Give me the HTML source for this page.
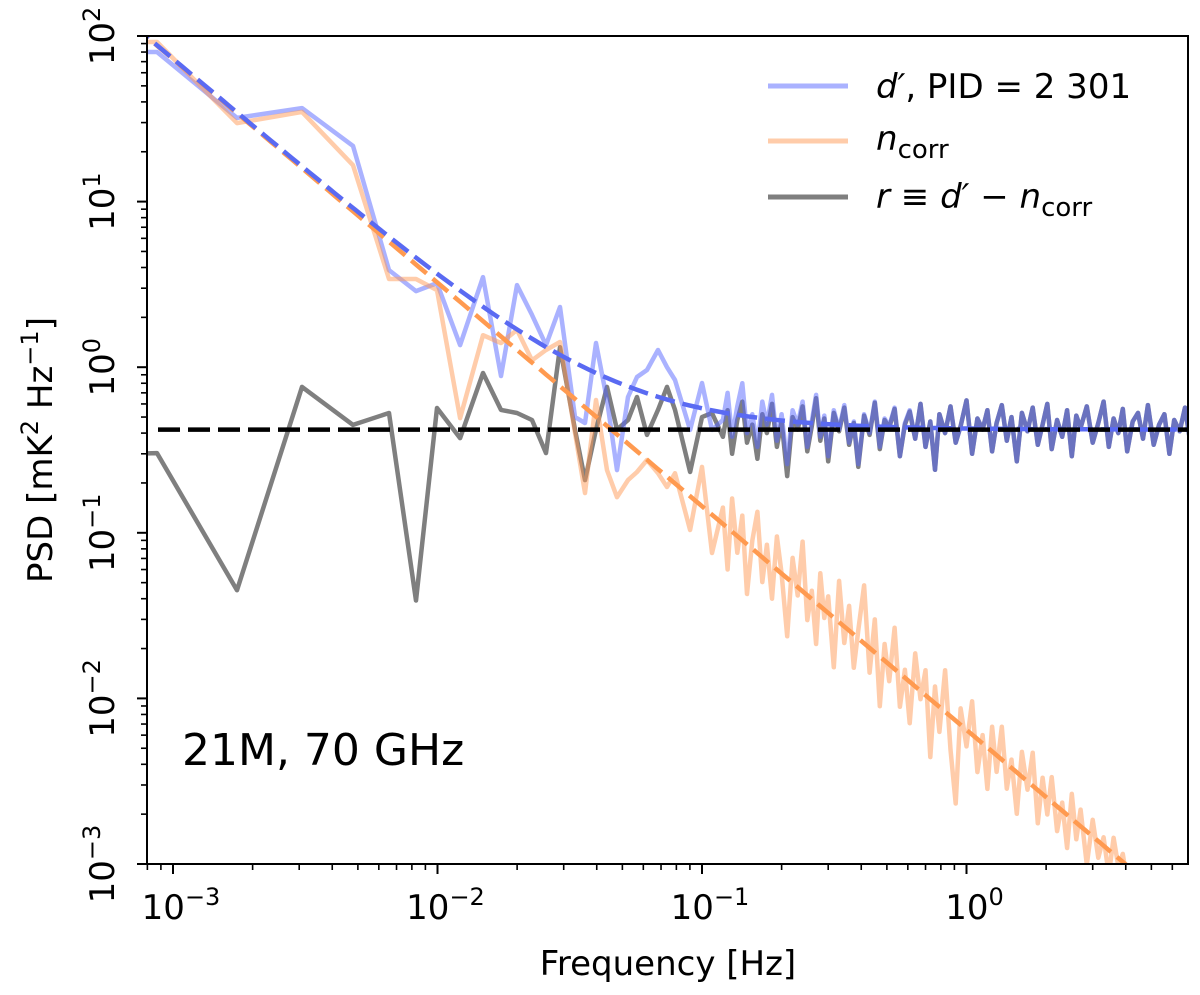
<!DOCTYPE html>
<html><head><meta charset="utf-8"><style>
body{margin:0;background:#fff}
svg text{font-family:"DejaVu Sans","Liberation Sans",sans-serif;fill:#000}
</style></head><body>
<svg id="chart" width="1200" height="990" viewBox="0 0 1200 990" xmlns="http://www.w3.org/2000/svg">
<defs><clipPath id="plotclip"><rect x="147" y="36" width="1041" height="828"/></clipPath></defs>
<g id="plot" clip-path="url(#plotclip)"></g>
<g id="axes"></g>
<g>
 <line x1="768" y1="86" x2="848" y2="86" stroke="#5566ff" stroke-opacity="0.5" stroke-width="5"/>
 <text x="876" y="98" font-size="34"><tspan font-style="italic">d′</tspan>, PID = 2 301</text>
 <line x1="768" y1="141" x2="848" y2="141" stroke="#ff9955" stroke-opacity="0.5" stroke-width="5"/>
 <text x="876" y="150" font-size="34"><tspan font-style="italic">n</tspan><tspan font-size="26" dy="8">corr</tspan></text>
 <line x1="768" y1="197" x2="848" y2="197" stroke="#000" stroke-opacity="0.5" stroke-width="5"/>
 <text x="876" y="208" font-size="34"><tspan font-style="italic">r</tspan> ≡ <tspan font-style="italic">d′</tspan> − <tspan font-style="italic">n</tspan><tspan font-size="26" dy="8">corr</tspan></text>
</g>
<text x="182" y="765" font-size="44">21M, 70 GHz</text>
<text x="668" y="975" font-size="34" text-anchor="middle">Frequency [Hz]</text>
<text transform="translate(52,450) rotate(-90)" font-size="34" text-anchor="middle">PSD [mK<tspan font-size="24" dy="-14">2</tspan><tspan dy="14"> Hz</tspan><tspan font-size="24" dy="-14">−1</tspan><tspan dy="14">]</tspan></text>
</svg>
<script>
const freqLow = [0.0007,0.00087,0.001746,0.003074,0.004792,0.006555,0.008292,0.00996,0.01217,0.01486,0.01738,0.01998,0.02277,0.02572,0.02904,0.03311,0.03612,0.03974,0.04372,0.04773,0.05253,0.05679,0.06194,0.06819,0.07375,0.07907,0.09016,0.1,0.1091];
const grayLow = [0.30,0.303,0.045,0.76,0.448,0.529,0.039,0.567,0.373,0.923,0.552,0.529,0.48,0.303,1.32,0.42,0.208,0.42,0.76,0.42,0.48,0.661,0.39,0.552,0.76,0.552,0.233,0.5,0.529];
const blueLow = [80,80,32,36.7,21.7,3.86,2.88,3.22,1.36,3.5,0.885,3.13,2.07,1.36,2.31,0.5,0.46,1.4,0.634,0.239,0.661,0.873,0.962,1.27,1.0,0.837,0.418,0.803,0.418];
const orangeLow = [92,92,29.8,34.8,16.6,3.41,3.41,2.92,0.493,1.56,1.4,1.68,1.1,1.27,1.42,0.401,0.174,0.634,0.239,0.164,0.208,0.233,0.275,0.229,0.189,0.229,0.104,0.25,0.0755];
const freqHigh = [0.12,0.125,0.13,0.136,0.142,0.148,0.155,0.162,0.169,0.176,0.184,0.192,0.2,0.21,0.22,0.23,0.24,0.25,0.26,0.27,0.28,0.29,0.3,0.315,0.33,0.345,0.36,0.375,0.39,0.41,0.43,0.45,0.47,0.49,0.51,0.535,0.56,0.585,0.61,0.64,0.67,0.7,0.73,0.76,0.79,0.83,0.87,0.91,0.95,1.0,1.05,1.1,1.15,1.2,1.25,1.3,1.36,1.42,1.48,1.55,1.62,1.7,1.78,1.86,1.94,2.02,2.1,2.2,2.3,2.4,2.5,2.6,2.7,2.85,3.0,3.15,3.3,3.45,3.6,3.75,3.9,4.05,4.25,4.45,4.65,4.85,5.1,5.35,5.6,5.85,6.1,6.4,6.7,7.0];
const grayHigh = [0.38,0.55,0.30,0.48,0.62,0.35,0.45,0.28,0.52,0.40,0.60,0.33,0.47,0.22,0.50,0.42,0.58,0.31,0.44,0.65,0.36,0.49,0.27,0.53,0.41,0.57,0.34,0.46,0.25,0.51,0.39,0.61,0.32,0.48,0.43,0.56,0.29,0.45,0.54,0.37,0.60,0.33,0.47,0.24,0.52,0.40,0.58,0.35,0.44,0.63,0.30,0.49,0.42,0.55,0.31,0.46,0.59,0.36,0.50,0.27,0.53,0.41,0.57,0.34,0.45,0.60,0.32,0.48,0.38,0.55,0.29,0.51,0.43,0.58,0.35,0.46,0.62,0.33,0.49,0.40,0.56,0.31,0.47,0.53,0.37,0.59,0.34,0.45,0.52,0.30,0.48,0.41,0.57,0.36];
const blueHigh = [0.48,0.70,0.38,0.58,0.80,0.40,0.52,0.33,0.62,0.45,0.68,0.36,0.52,0.26,0.55,0.45,0.62,0.33,0.47,0.68,0.38,0.51,0.29,0.55,0.42,0.59,0.35,0.47,0.26,0.52,0.40,0.62,0.33,0.49,0.44,0.57,0.29,0.46,0.55,0.37,0.60,0.33,0.47,0.24,0.52,0.40,0.58,0.35,0.44,0.63,0.30,0.49,0.42,0.55,0.31,0.46,0.59,0.36,0.50,0.27,0.53,0.41,0.57,0.34,0.45,0.60,0.32,0.48,0.38,0.55,0.29,0.51,0.43,0.58,0.35,0.46,0.62,0.33,0.49,0.40,0.56,0.31,0.47,0.53,0.37,0.59,0.34,0.45,0.52,0.30,0.48,0.41,0.57,0.36];
const orangeHigh = [0.142,0.060,0.161,0.0757,0.127,0.0427,0.0897,0.134,0.0504,0.0847,0.040,0.095,0.0568,0.0237,0.0705,0.0418,0.0885,0.0297,0.0447,0.0213,0.057,0.0306,0.0413,0.0154,0.0512,0.0216,0.0362,0.0153,0.0258,0.0481,0.0143,0.030,0.00897,0.0213,0.0127,0.0267,0.0089,0.0149,0.00708,0.0187,0.00989,0.0148,0.00442,0.0118,0.00628,0.0148,0.00491,0.00232,0.0087,0.00513,0.0096,0.00359,0.0060,0.00284,0.00675,0.0036,0.00675,0.00285,0.00427,0.00201,0.00475,0.00281,0.0047,0.00176,0.00332,0.00199,0.00335,0.00158,0.00235,0.00125,0.00265,0.00141,0.00213,0.00099,0.00185,0.00109,0.00145,0.00086,0.00144,0.00097,0.00115,0.00078,0.0006];
const fitAmp = 0.00646, fitSlope = -1.35, whiteLevel = 0.42;
const yTickExps = [2,1,0,-1,-2,-3];
const xTickExps = [-3,-2,-1,0];

const X0=173, XDEC=264.5, Y0=36, YDEC=165.6, L=147, R=1188, T=36, B=864;
const xs = f => X0 + XDEC*(Math.log10(f)+3);
const ys = v => Y0 + YDEC*(2-Math.log10(v));
const NS='http://www.w3.org/2000/svg';
const plot=document.getElementById('plot'), axes=document.getElementById('axes');
function mk(tag, attrs, parent){const e=document.createElementNS(NS,tag);for(const k in attrs)e.setAttribute(k,attrs[k]);parent.appendChild(e);return e;}
function series(fl,vl,fh,vh){const pts=[];for(let i=0;i<Math.min(fl.length,vl.length);i++)pts.push([fl[i],vl[i]]);for(let i=0;i<Math.min(fh.length,vh.length);i++)pts.push([fh[i],vh[i]]);return pts.map(p=>xs(p[0]).toFixed(1)+','+ys(p[1]).toFixed(1)).join(' ');}

let e;
e=mk('polyline',{points:series(freqLow,grayLow,freqHigh,grayHigh),fill:'none',stroke:'#000','stroke-opacity':0.5,'stroke-width':4.5,'stroke-linejoin':'round'},plot);


e=mk('polyline',{points:series(freqLow,blueLow,freqHigh,blueHigh),fill:'none',stroke:'#5566ff','stroke-opacity':0.5,'stroke-width':4.5,'stroke-linejoin':'round'},plot);


e=mk('polyline',{points:series(freqLow,orangeLow,freqHigh,orangeHigh),fill:'none',stroke:'#ff9955','stroke-opacity':0.5,'stroke-width':4.5,'stroke-linejoin':'round'},plot);



// fit curves
const fitF=[];for(let lf=-3.15;lf<=0.9;lf+=0.02)fitF.push(Math.pow(10,lf));
const nfit=f=>fitAmp*Math.pow(f,fitSlope);
e=mk('polyline',{points:fitF.map(f=>xs(f).toFixed(1)+','+ys(nfit(f)).toFixed(1)).join(' '),fill:'none',stroke:'#ff9a50','stroke-width':4.5,'stroke-dasharray':'20 8'},plot);


e=mk('polyline',{points:fitF.map(f=>xs(f).toFixed(1)+','+ys(nfit(f)+whiteLevel).toFixed(1)).join(' '),fill:'none',stroke:'#5a6af2','stroke-width':4.5,'stroke-dasharray':'20 8'},plot);


e=mk('line',{x1:158,x2:R,y1:ys(whiteLevel),y2:ys(whiteLevel),stroke:'#000','stroke-width':4.5,'stroke-dasharray':'22 8'},plot);



// frame
e=mk('rect',{x:L,y:T,width:R-L,height:B-T,fill:'none',stroke:'#000','stroke-width':2},axes);



// y ticks
yTickExps.forEach(p=>{
  const y=ys(Math.pow(10,p));
  e=mk('line',{x1:L-10,x2:L,y1:y,y2:y,stroke:'#000','stroke-width':2},axes);
  
  
  const t=mk('text',{transform:`translate(114,${y}) rotate(-90)`,'font-size':34,'text-anchor':'middle'},axes);
  t.innerHTML='10<tspan font-size="24" dy="-14">'+(p<0?'−'+(-p):p)+'</tspan>';
  
  
  if(p>-3)for(let m=2;m<=9;m++){const ym=ys(m*Math.pow(10,p-1));
    e=mk('line',{x1:L-6,x2:L,y1:ym,y2:ym,stroke:'#000','stroke-width':1.6},axes);
    
    }
});
// x ticks
xTickExps.forEach(p=>{
  const x=xs(Math.pow(10,p));
  e=mk('line',{x1:x,x2:x,y1:B,y2:B+10,stroke:'#000','stroke-width':2},axes);
  
  
  const t=mk('text',{x:x+8,y:919,'font-size':34,'text-anchor':'middle'},axes);
  t.innerHTML='10<tspan font-size="24" dy="-14">'+(p<0?'−'+(-p):p)+'</tspan>';
  
  
});
[-4,-3,-2,-1,0].forEach(p=>{for(let m=2;m<=9;m++){const x=xs(m*Math.pow(10,p));
  if(x<L||x>R)continue;
  e=mk('line',{x1:x,x2:x,y1:B,y2:B+6,stroke:'#000','stroke-width':1.6},axes);
  
  }});
</script>
</body></html>
